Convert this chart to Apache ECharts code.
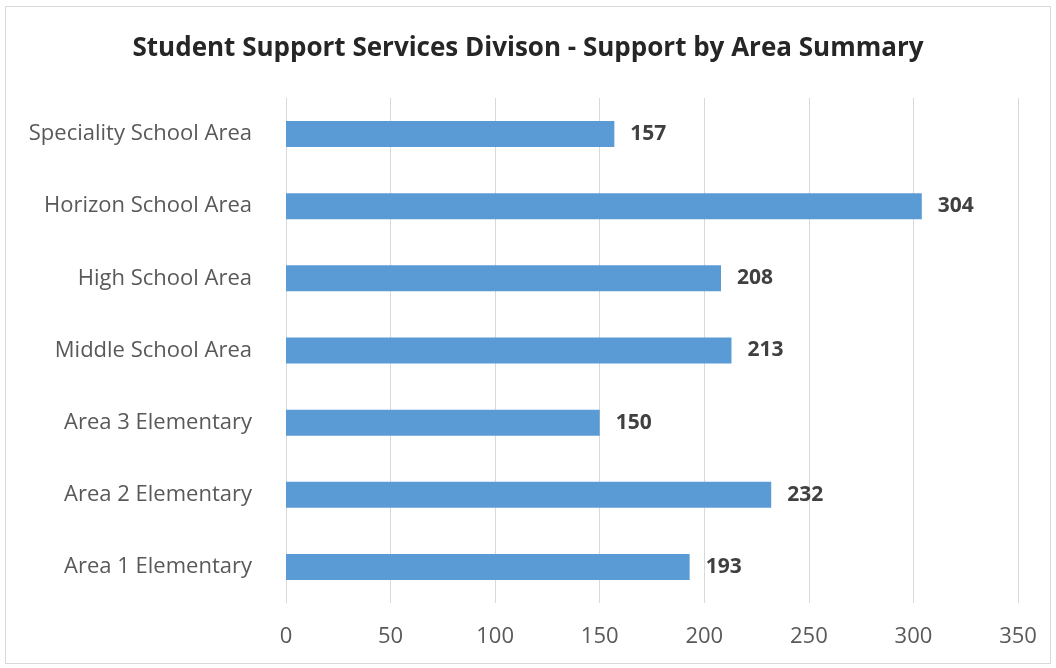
<!DOCTYPE html>
<html>
<head>
<meta charset="utf-8">
<script src="https://cdn.jsdelivr.net/npm/echarts@6/dist/echarts.min.js"></script>
<style>
  html, body { margin: 0; padding: 0; background: #fff; }
  #frame { position: absolute; left: 5px; top: 6px; width: 1046px; height: 658px; border: 1px solid #d9d9d9; box-sizing: border-box; }
  #chart { width: 1056px; height: 668px; position: absolute; left: 0; top: 0; }
</style>
</head>
<body>
<div id="frame"></div>
<div id="chart"></div>
<script>
// Support counts per area, listed bottom to top
const areas = [
  'Area 1 Elementary',
  'Area 2 Elementary',
  'Area 3 Elementary',
  'Middle School Area',
  'High School Area',
  'Horizon School Area',
  'Speciality School Area'
];
const supportCounts = [193, 232, 150, 213, 208, 304, 157];
const xTicks = [0, 50, 100, 150, 200, 250, 300, 350];

const font = '"Open Sans", Lato, sans-serif';
const chart = echarts.init(document.getElementById('chart'));
chart.setOption({
  backgroundColor: 'transparent',
  animation: false,
  title: {
    text: 'Student Support Services Divison - Support by Area Summary',
    left: 'center',
    top: 31,
    textStyle: { fontFamily: font, fontSize: 26, fontWeight: 'bold', color: '#262626' }
  },
  grid: { left: 286, right: 38, top: 98, bottom: 65 },
  xAxis: {
    type: 'value',
    min: xTicks[0],
    max: xTicks[xTicks.length - 1],
    interval: xTicks[1] - xTicks[0],
    axisLine: { show: false },
    axisTick: { show: false },
    splitLine: { lineStyle: { color: '#d9d9d9', width: 1 } },
    axisLabel: { fontFamily: font, fontSize: 22, color: '#595959', margin: 23 }
  },
  yAxis: {
    type: 'category',
    data: areas,
    axisLine: { show: true, lineStyle: { color: '#d9d9d9' } },
    axisTick: { show: false },
    axisLabel: { fontFamily: font, fontSize: 22, color: '#595959', margin: 34 }
  },
  series: [{
    type: 'bar',
    data: supportCounts,
    barWidth: '36%',
    itemStyle: { color: '#5b9bd5' },
    label: {
      show: true,
      position: 'right',
      distance: 16,
      fontFamily: font,
      fontSize: 21,
      fontWeight: 'bold',
      color: '#404040'
    }
  }]
});
</script>
</body>
</html>
